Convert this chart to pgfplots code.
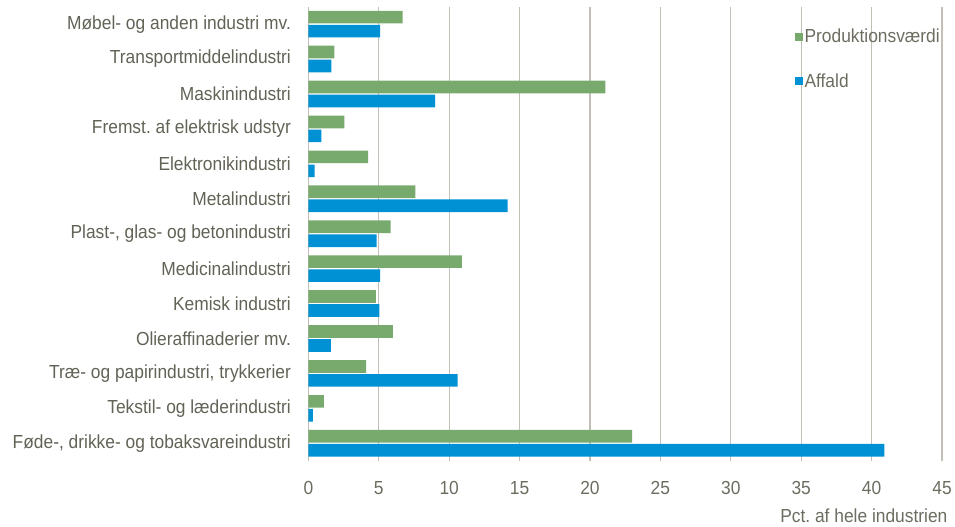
\documentclass[border=0pt]{standalone}
\usepackage{pgfplots}
\pgfplotsset{compat=1.18}
\usepackage{fontspec}
\setmainfont{Liberation Sans}[FakeStretch=0.92]
\definecolor{gr}{RGB}{120,170,110}
\definecolor{bl}{RGB}{0,144,212}
\definecolor{gridc}{RGB}{195,191,182}
\definecolor{labc}{RGB}{98,98,86}
\definecolor{tickc}{RGB}{108,108,96}
\frenchspacing
\begin{document}
\begin{tikzpicture}
\begin{axis}[
  name=ax,
  scale only axis,
  width=635bp, height=455bp,
  xbar, bar width=12.7bp,
  xmin=0, xmax=45,
  ymin=-0.5, ymax=12.5,
  xtick={0,5,...,45},
  ytick={0,...,12},
  yticklabels={{Føde-, drikke- og tobaksvareindustri}, Tekstil- og læderindustri, {Træ- og papirindustri, trykkerier}, Olieraffinaderier mv., Kemisk industri, Medicinalindustri, {Plast-, glas- og betonindustri}, Metalindustri, Elektronikindustri, Fremst. af elektrisk udstyr, Maskinindustri, Transportmiddelindustri, Møbel- og anden industri mv.},
  xmajorgrids,
  major grid style={draw=gridc, line width=1.3bp},
  axis line style={draw=none},
  major tick length=0pt,
  /pgf/number format/assume math mode=true,
  tick label style={font=\fontsize{19}{22}\selectfont},
  xticklabel style={text=tickc, yshift=-17bp},
  yticklabel style={text=labc, xshift=-14bp},
  xlabel={Pct. af hele industrien},
  xlabel style={at={(axis description cs:1.014,0)}, anchor=north east, yshift=-45bp, text=tickc, font=\fontsize{19}{22}\selectfont},
  legend style={at={(rel axis cs:0.767,0.955)}, anchor=north west, draw=none, fill=none,
    font=\fontsize{19}{22}\selectfont, text=tickc, row sep=25bp, inner sep=0pt},
  legend cell align=left,
  legend image code/.code={\fill[#1] (0bp,-4bp) rectangle (8bp,4bp); \path (0bp,0bp) -- (8bp,0bp);},
]
\addplot[fill=gr, draw=none, bar shift=7bp] coordinates {
(23.0,0) (1.1,1) (4.1,2) (6.0,3) (4.8,4) (10.9,5) (5.85,6) (7.6,7) (4.25,8) (2.55,9) (21.1,10) (1.85,11) (6.7,12)};
\addplot[fill=bl, draw=none, bar shift=-7bp] coordinates {
(40.9,0) (0.33,1) (10.6,2) (1.6,3) (5.05,4) (5.1,5) (4.85,6) (14.15,7) (0.45,8) (0.92,9) (9.0,10) (1.63,11) (5.1,12)};
\legend{Produktionsværdi, Affald}
\end{axis}
\path (ax.south west) ++(-309bp,-62.3bp) rectangle ++(955bp,524bp);
\end{tikzpicture}
\end{document}
